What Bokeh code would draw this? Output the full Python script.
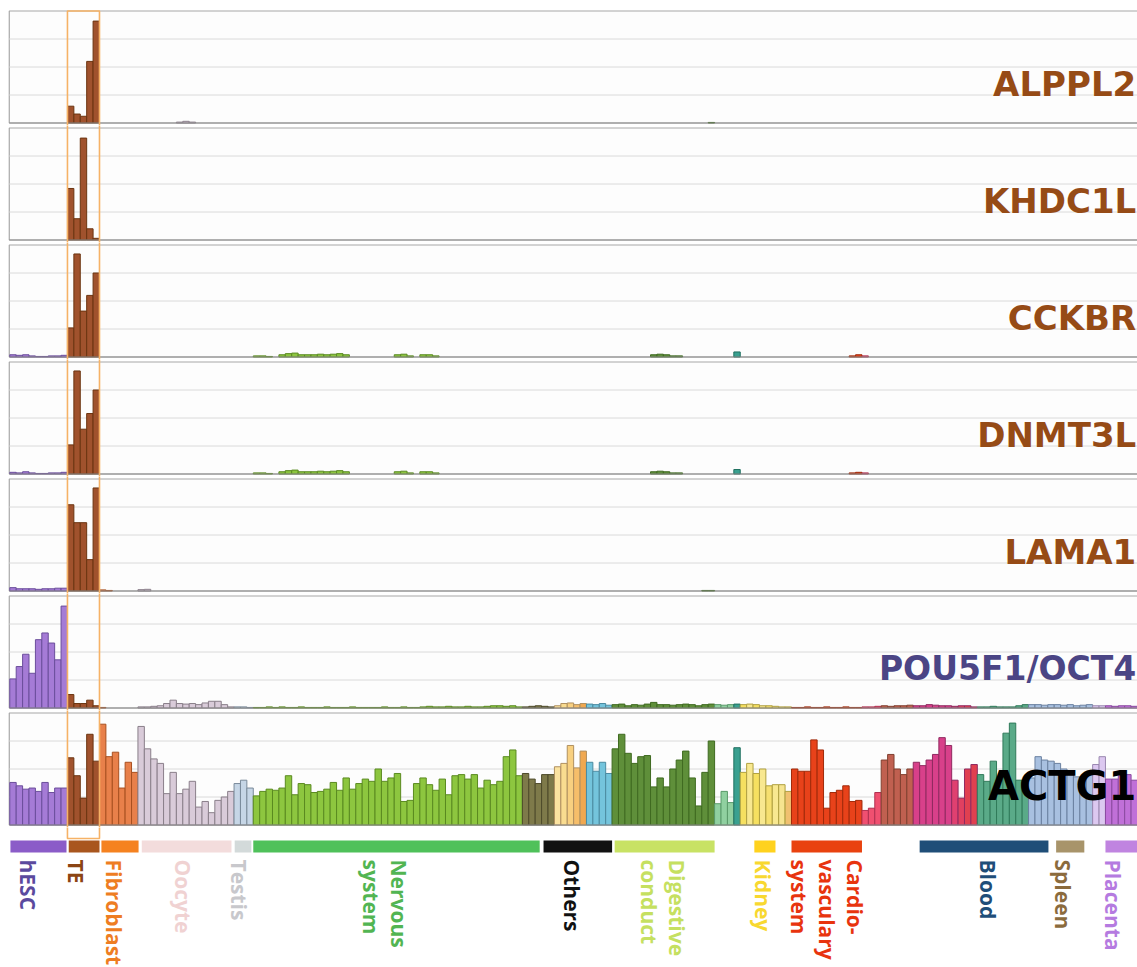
import math
from bokeh.plotting import figure
from bokeh.layouts import column
from bokeh.models import Range1d
from bokeh.embed import file_html
from bokeh.resources import INLINE
from bokeh.core.properties import value

# ---------------- bar groups (sample columns, left to right) ----------------
group_sizes = [9, 5, 6, 15, 3, 42, 5, 5, 4, 16, 3, 1, 8, 11, 3, 5, 10, 8, 10, 2, 5]
group_fill = [
    "#a57bd6", "#a0522d", "#e8804a", "#d9cbd9", "#c6d6e6", "#8dc63f", "#7e7a4a",
    ["#fbe3a0", "#f9dc90", "#f8d080", "#f6be6a", "#f0a850"],
    "#74c4dc", "#5f8f3a", "#90d0a0", "#3aa090",
    ["#f6e060", "#f8e890", "#f6e060", "#f8e890", "#f6e070", "#f8e890", "#f6e490", "#f0c070"],
    "#e8421a", "#f05070", "#c06050",
    ["#d8408a", "#d8408a", "#d8408a", "#d8408a", "#d8408a", "#d8408a", "#e04070", "#e04060", "#e04050", "#e04050"],
    "#5aaa88", "#a8c0e0", "#dcc8f0", "#c070d8",
]
group_line = [
    "#6b4e9b", "#6b3410", "#a85020", "#8a7f8a", "#7a8a9a", "#5a8a20", "#4e4a2a",
    "#b09060", "#4a8aa0", "#3f6a20", "#5a9a6a", "#207060", "#b0a040",
    "#a02a0a", "#b03050", "#804030", "#902a60", "#307a5a", "#6a80a0", "#9a88b0", "#8a4aa0",
]

# ---------------- expression values (fraction of panel height) ----------------
ALPPL2 = ([0] * 9 + [0.15, 0.08, 0.06, 0.55, 0.91] + [0] * 6
          + [0, 0, 0, 0, 0, 0, 0.008, 0.015, 0.008, 0, 0, 0, 0, 0, 0]
          + [0] * (3 + 42 + 5 + 5 + 4) + [0] * 15 + [0.005]
          + [0] * (3 + 1 + 8 + 11 + 3 + 5 + 10 + 8 + 10 + 2 + 5))

KHDC1L = ([0] * 9 + [0.46, 0.19, 0.91, 0.10, 0.015] + [0] * (176 - 14))

CCKBR = ([0.02, 0.015, 0.02, 0.01, 0.005, 0.005, 0.01, 0.01, 0.015]
         + [0.26, 0.92, 0.41, 0.55, 0.75]
         + [0] * 6 + [0] * 15 + [0] * 3
         + [0.01, 0.01, 0.005, 0, 0.02, 0.03, 0.035, 0.02,
            0.02, 0.02, 0.025, 0.02, 0.025, 0.03, 0.02,
            0, 0, 0, 0, 0, 0, 0, 0.02, 0.025, 0.01, 0, 0.02, 0.02, 0.01]
         + [0] * 13
         + [0] * 5 + [0] * 5 + [0] * 4
         + [0, 0, 0, 0, 0, 0, 0.02, 0.025, 0.02, 0.01, 0.01, 0, 0, 0, 0, 0]
         + [0, 0, 0] + [0.045] + [0] * 8
         + [0, 0, 0, 0, 0, 0, 0, 0, 0, 0.01, 0.02] + [0.01, 0, 0]
         + [0] * (5 + 10 + 8 + 10 + 2 + 5))

DNMT3L = ([0.015, 0.01, 0.02, 0.01, 0.005, 0.005, 0.01, 0.01, 0.015]
          + [0.26, 0.92, 0.40, 0.54, 0.75]
          + [0] * 6 + [0] * 15 + [0] * 3
          + [0.01, 0.01, 0.005, 0, 0.02, 0.03, 0.035, 0.02,
             0.02, 0.02, 0.025, 0.02, 0.025, 0.03, 0.02,
             0, 0, 0, 0, 0, 0, 0, 0.02, 0.025, 0.01, 0, 0.02, 0.02, 0.01]
          + [0] * 13
          + [0] * 5 + [0] * 5 + [0] * 4
          + [0, 0, 0, 0, 0, 0, 0.02, 0.025, 0.02, 0.01, 0.01, 0, 0, 0, 0, 0]
          + [0, 0, 0] + [0.04] + [0] * 8
          + [0, 0, 0, 0, 0, 0, 0, 0, 0, 0.01, 0.015] + [0.01, 0, 0]
          + [0] * (5 + 10 + 8 + 10 + 2 + 5))

LAMA1 = ([0.03, 0.02, 0.02, 0.02, 0.015, 0.02, 0.02, 0.025, 0.025]
         + [0.77, 0.61, 0.61, 0.28, 0.92]
         + [0.01, 0.005, 0, 0, 0, 0]
         + [0.012, 0.015, 0, 0, 0, 0, 0, 0, 0, 0, 0, 0, 0, 0, 0]
         + [0] * 3 + [0] * 42 + [0] * 14
         + [0, 0, 0, 0, 0, 0, 0, 0, 0, 0, 0, 0, 0, 0, 0.005, 0.005]
         + [0] * (3 + 1 + 8 + 11 + 3 + 5 + 10 + 8 + 10 + 2 + 5))

POU5F1 = ([0.26, 0.37, 0.48, 0.31, 0.61, 0.67, 0.58, 0.43, 0.91]
          + [0.12, 0.04, 0.04, 0.07, 0.02]
          + [0.005, 0, 0, 0, 0, 0]
          + [0.01, 0.01, 0.015, 0.02, 0.04, 0.07, 0.04, 0.035, 0.04, 0.03, 0.045, 0.06, 0.06, 0.03, 0.01]
          + [0.01, 0.01, 0.005]
          + [0.005, 0.005, 0.01, 0.005, 0.01, 0.005, 0.005, 0.01, 0.005, 0.005,
             0.005, 0.01, 0.005, 0.005, 0.005, 0.01, 0.005, 0.005, 0.005, 0.005,
             0.01, 0.005, 0.005, 0.01, 0.005, 0.005, 0.01, 0.015, 0.01, 0.01,
             0.015, 0.01, 0.01, 0.015, 0.01, 0.01, 0.015, 0.02, 0.02, 0.015, 0.02, 0.01]
          + [0.01, 0.015, 0.02, 0.015, 0.01]
          + [0.02, 0.04, 0.045, 0.03, 0.04]
          + [0.035, 0.03, 0.04, 0.025]
          + [0.03, 0.035, 0.02, 0.03, 0.025, 0.035, 0.05, 0.03, 0.03, 0.025, 0.03, 0.035, 0.03, 0.02, 0.03, 0.035]
          + [0.03, 0.025, 0.03] + [0.035]
          + [0.03, 0.035, 0.03, 0.02, 0.02, 0.015, 0.01, 0.01]
          + [0.005, 0.005, 0.01, 0.005, 0.005, 0.01, 0.005, 0.005, 0.01, 0.005, 0.005]
          + [0.01, 0.01, 0.015]
          + [0.02, 0.015, 0.02, 0.02, 0.025]
          + [0.02, 0.02, 0.03, 0.025, 0.02, 0.02, 0.015, 0.02, 0.02, 0.01]
          + [0.01, 0.01, 0.015, 0.01, 0.01, 0.01, 0.02, 0.03]
          + [0.03, 0.03, 0.025, 0.03, 0.03, 0.025, 0.03, 0.02, 0.025, 0.03]
          + [0.02, 0.02]
          + [0.02, 0.015, 0.02, 0.02, 0.015])

ACTG1 = ([0.38, 0.35, 0.32, 0.33, 0.30, 0.38, 0.29, 0.33, 0.33]
         + [0.60, 0.44, 0.24, 0.81, 0.57]
         + [0.90, 0.61, 0.65, 0.33, 0.56, 0.47]
         + [0.88, 0.68, 0.59, 0.55, 0.28, 0.47, 0.28, 0.32, 0.39, 0.16, 0.21, 0.11, 0.22, 0.25, 0.30]
         + [0.37, 0.40, 0.33]
         + [0.26, 0.30, 0.32, 0.31, 0.33, 0.44, 0.27, 0.37, 0.36, 0.29,
            0.30, 0.32, 0.38, 0.31, 0.42, 0.32, 0.37, 0.41, 0.39, 0.50,
            0.39, 0.42, 0.46, 0.21, 0.22, 0.37, 0.42, 0.36, 0.31, 0.41,
            0.27, 0.44, 0.45, 0.41, 0.45, 0.33, 0.40, 0.36, 0.39, 0.61, 0.67, 0.44]
         + [0.46, 0.41, 0.37, 0.45, 0.45]
         + [0.52, 0.55, 0.71, 0.51, 0.66]
         + [0.56, 0.48, 0.56, 0.46]
         + [0.68, 0.81, 0.64, 0.55, 0.61, 0.62, 0.34, 0.42, 0.34, 0.50, 0.58, 0.66, 0.42, 0.17, 0.47, 0.75]
         + [0.19, 0.30, 0.20] + [0.69]
         + [0.47, 0.55, 0.46, 0.50, 0.35, 0.36, 0.36, 0.30]
         + [0.50, 0.48, 0.48, 0.76, 0.67, 0.15, 0.29, 0.31, 0.35, 0.21, 0.22]
         + [0.13, 0.15, 0.29]
         + [0.58, 0.63, 0.50, 0.45, 0.50]
         + [0.56, 0.53, 0.58, 0.63, 0.78, 0.71, 0.40, 0.24, 0.50, 0.54]
         + [0.45, 0.39, 0.57, 0.41, 0.82, 0.91, 0.40, 0.40]
         + [0.42, 0.61, 0.58, 0.57, 0.55, 0.50, 0.45, 0.43, 0.43, 0.48]
         + [0.54, 0.61]
         + [0.41, 0.41, 0.44, 0.45, 0.40])

genes = ["ALPPL2", "KHDC1L", "CCKBR", "DNMT3L", "LAMA1", "POU5F1/OCT4", "ACTG1"]
gene_values = [ALPPL2, KHDC1L, CCKBR, DNMT3L, LAMA1, POU5F1, ACTG1]
gene_colors = ["#964b16", "#964b16", "#964b16", "#964b16", "#964b16", "#4b4585", "#000000"]
gene_font_px = [34, 34, 34, 34, 34, 33, 40]

# ---------------- tissue categories (bottom legend bars) ----------------
cat_labels = ["hESC", "TE", "Fibroblast", "Oocyte", "Testis", "Nervous\nsystem", "Others",
              "Digestive\nconduct", "Kidney", "Cardio-\nvasculary\nsystem", "Blood", "Spleen", "Placenta"]
cat_start = [0.1, 9.2, 14.3, 20.6, 35.1, 38.0, 83.3, 94.4, 116.2, 122.0, 142.0, 163.3, 171.0]
cat_end = [8.85, 14.0, 20.1, 34.6, 37.7, 82.7, 94.0, 110.0, 119.5, 133.0, 162.1, 167.7, 180.0]
cat_label_pos = [2.8, 10.3, 16.3, 27.1, 35.7, 58.6, 87.8, 101.9, 117.6, 127.5, 152.6, 164.4, 172.2]
cat_bar_colors = ["#8b5cc8", "#a9561e", "#f58220", "#f3dcdc", "#d3dada", "#4fc15a", "#111111",
                  "#c8e264", "#ffd21e", "#e9420f", "#1f4e78", "#a8946a", "#c084e0"]
cat_text_colors = ["#5b4a9e", "#8b4513", "#ee7d22", "#f0d2d2", "#c8c8cc", "#52b552", "#111111",
                   "#c5e060", "#f8d830", "#e8340e", "#1f4e79", "#8b6b3d", "#b57be0"]

TE_BOX = (9, 14)

# ---------------- build ----------------
fills, lines = [], []
for n, f, l in zip(group_sizes, group_fill, group_line):
    fills += f if isinstance(f, list) else [f] * n
    lines += [l] * n
N = sum(group_sizes)
for v in gene_values:
    assert len(v) == N, len(v)

W = 1137
TOP = 8
PAN_H = 117
UNIT = 112
gap = (PAN_H - UNIT) / 2 / UNIT
XR = (-1.45, N)
BOX_COLOR = "#f6b266"

panels = []
for k, (g, vals, col, fpx) in enumerate(zip(genes, gene_values, gene_colors, gene_font_px)):
    keep = [i for i in range(N) if vals[i] > 0]
    p = figure(width=W, height=PAN_H + (TOP if k == 0 else 0),
               x_range=Range1d(*XR), y_range=Range1d(-gap, 1 + gap),
               x_axis_type=None, y_axis_type=None, toolbar_location=None,
               output_backend="svg", min_border=0, outline_line_color=None)
    if k == 0:
        p.min_border_top = TOP
    p.grid.visible = False
    p.quad(left=-0.08, right=N + 5, bottom=0, top=1, fill_color="#fdfdfd",
           line_color="#a8a8a8", line_width=1.2)
    p.segment(x0=[-0.08] * 3, x1=[N + 5] * 3, y0=[0.25, 0.5, 0.75], y1=[0.25, 0.5, 0.75],
              line_color="#dadada", line_width=1)
    p.vbar(x=[i + 0.5 for i in keep], top=[vals[i] for i in keep], bottom=0, width=1,
           fill_color=[fills[i] for i in keep], line_color=[lines[i] for i in keep], line_width=1)
    p.segment(x0=[-0.08], x1=[N + 5], y0=[0], y1=[0], line_color="#8c8c8c", line_width=1.2)
    p.quad(left=TE_BOX[0], right=TE_BOX[1], bottom=-1, top=1 if k == 0 else 2,
           fill_color=None, line_color=BOX_COLOR, line_width=1.6)
    p.text(x=[N - 0.2], y=[0.35], text=[g], text_align="right", text_baseline="alphabetic",
           text_font=value("DejaVu Sans"), text_font_style="bold", text_font_size=f"{fpx}px",
           text_color=col)
    panels.append(p)

CAT_H = 967 - TOP - 7 * PAN_H
c = figure(width=W, height=CAT_H, x_range=Range1d(*XR), y_range=Range1d(-CAT_H, 0),
           x_axis_type=None, y_axis_type=None, toolbar_location=None,
           output_backend="svg", min_border=0, outline_line_color=None)
c.grid.visible = False
c.quad(left=cat_start, right=cat_end, top=-13, bottom=-25, fill_color=cat_bar_colors, line_color=None)
c.quad(left=TE_BOX[0], right=TE_BOX[1], bottom=-11, top=5, fill_color=None,
       line_color=BOX_COLOR, line_width=1.6)
c.text(x=cat_label_pos, y=[-32] * len(cat_labels), text=cat_labels, angle=-math.pi / 2,
       text_align="left", text_baseline="middle", text_color=cat_text_colors,
       text_font=value("Open Sans"), text_font_style="bold", text_font_size="21px",
       text_line_height=1.0)

layout = column(*panels, c, spacing=0)
open("out.html", "w").write(file_html(layout, INLINE))
